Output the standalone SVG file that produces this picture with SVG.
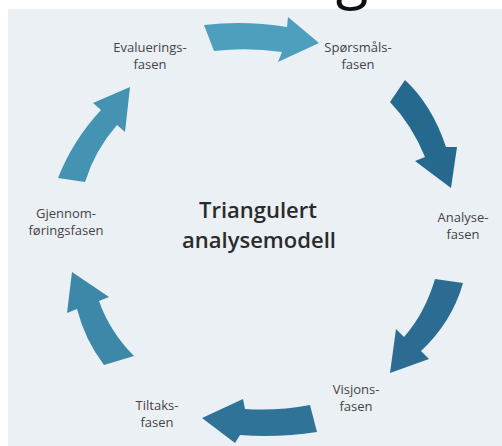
<svg xmlns="http://www.w3.org/2000/svg" width="502" height="446" viewBox="0 0 502 446">
<style>
.lbl{font-family:"Open Sans","Noto Sans","DejaVu Sans",sans-serif;font-size:13px;fill:#444;text-anchor:middle}
.ttl{font-family:"Open Sans","Noto Sans","DejaVu Sans",sans-serif;font-size:22px;fill:#2b2b2b;text-anchor:middle;font-weight:600}
</style>
<rect x="0" y="0" width="502" height="446" fill="#ffffff"/>
<rect x="8" y="9" width="494" height="437" fill="#ebf0f5"/>
<text x="352" y="-3" font-family="'Open Sans','DejaVu Sans',sans-serif" font-size="60" fill="#111" text-anchor="middle">g</text>
<g id="connectors">
<path id="a1" d="M204,25 Q245,20 287,27 L288,17 L319,43 L278,62 L282,52 Q248,47 214,51 Z" fill="#4e9fbd"/>
<path id="a2" d="M405,80 Q432,105 446,147 L457,147 L451,188 L415,161 L425,157 Q412,125 390,102 Z" fill="#256a8e"/>
<path id="a3" d="M435,279 L463,283 Q452,322 421,351 L429,359 L390,373 L396,329 L404,337 Q425,313 435,279 Z" fill="#2c6c92"/>
<path id="a4" d="M310,405 L317,432 Q278,438 240,435 L235,443 L202,418 L243,399 L245,409 Q278,411 310,405 Z" fill="#2f7398"/>
<path id="a5" d="M104,365 Q85,340 77,309 L67,313 L72,272 L109,297 L99,301 Q110,332 134,356 Z" fill="#3d87a9"/>
<path id="a6" d="M58,178 Q73,140 101,110 L93,103 L130,87 L125,132 L117,125 Q95,150 85,182 Z" fill="#4593b3"/>
</g>
<g id="center"><text class="ttl" x="258" y="218">Triangulert</text><text class="ttl" x="259" y="248">analysemodell</text></g>
<g id="evaluering"><text class="lbl" x="150" y="52">Evaluerings-</text><text class="lbl" x="150" y="69">fasen</text></g>
<g id="sporsmal"><text class="lbl" x="358" y="52">Spørsmåls-</text><text class="lbl" x="358" y="69">fasen</text></g>
<g id="analyse"><text class="lbl" x="463" y="222">Analyse-</text><text class="lbl" x="463" y="239">fasen</text></g>
<g id="visjon"><text class="lbl" x="356" y="394">Visjons-</text><text class="lbl" x="356" y="411">fasen</text></g>
<g id="tiltak"><text class="lbl" x="157" y="410">Tiltaks-</text><text class="lbl" x="157" y="427">fasen</text></g>
<g id="gjennomforing"><text class="lbl" x="66" y="218">Gjennom-</text><text class="lbl" x="66" y="235">føringsfasen</text></g>
</svg>
